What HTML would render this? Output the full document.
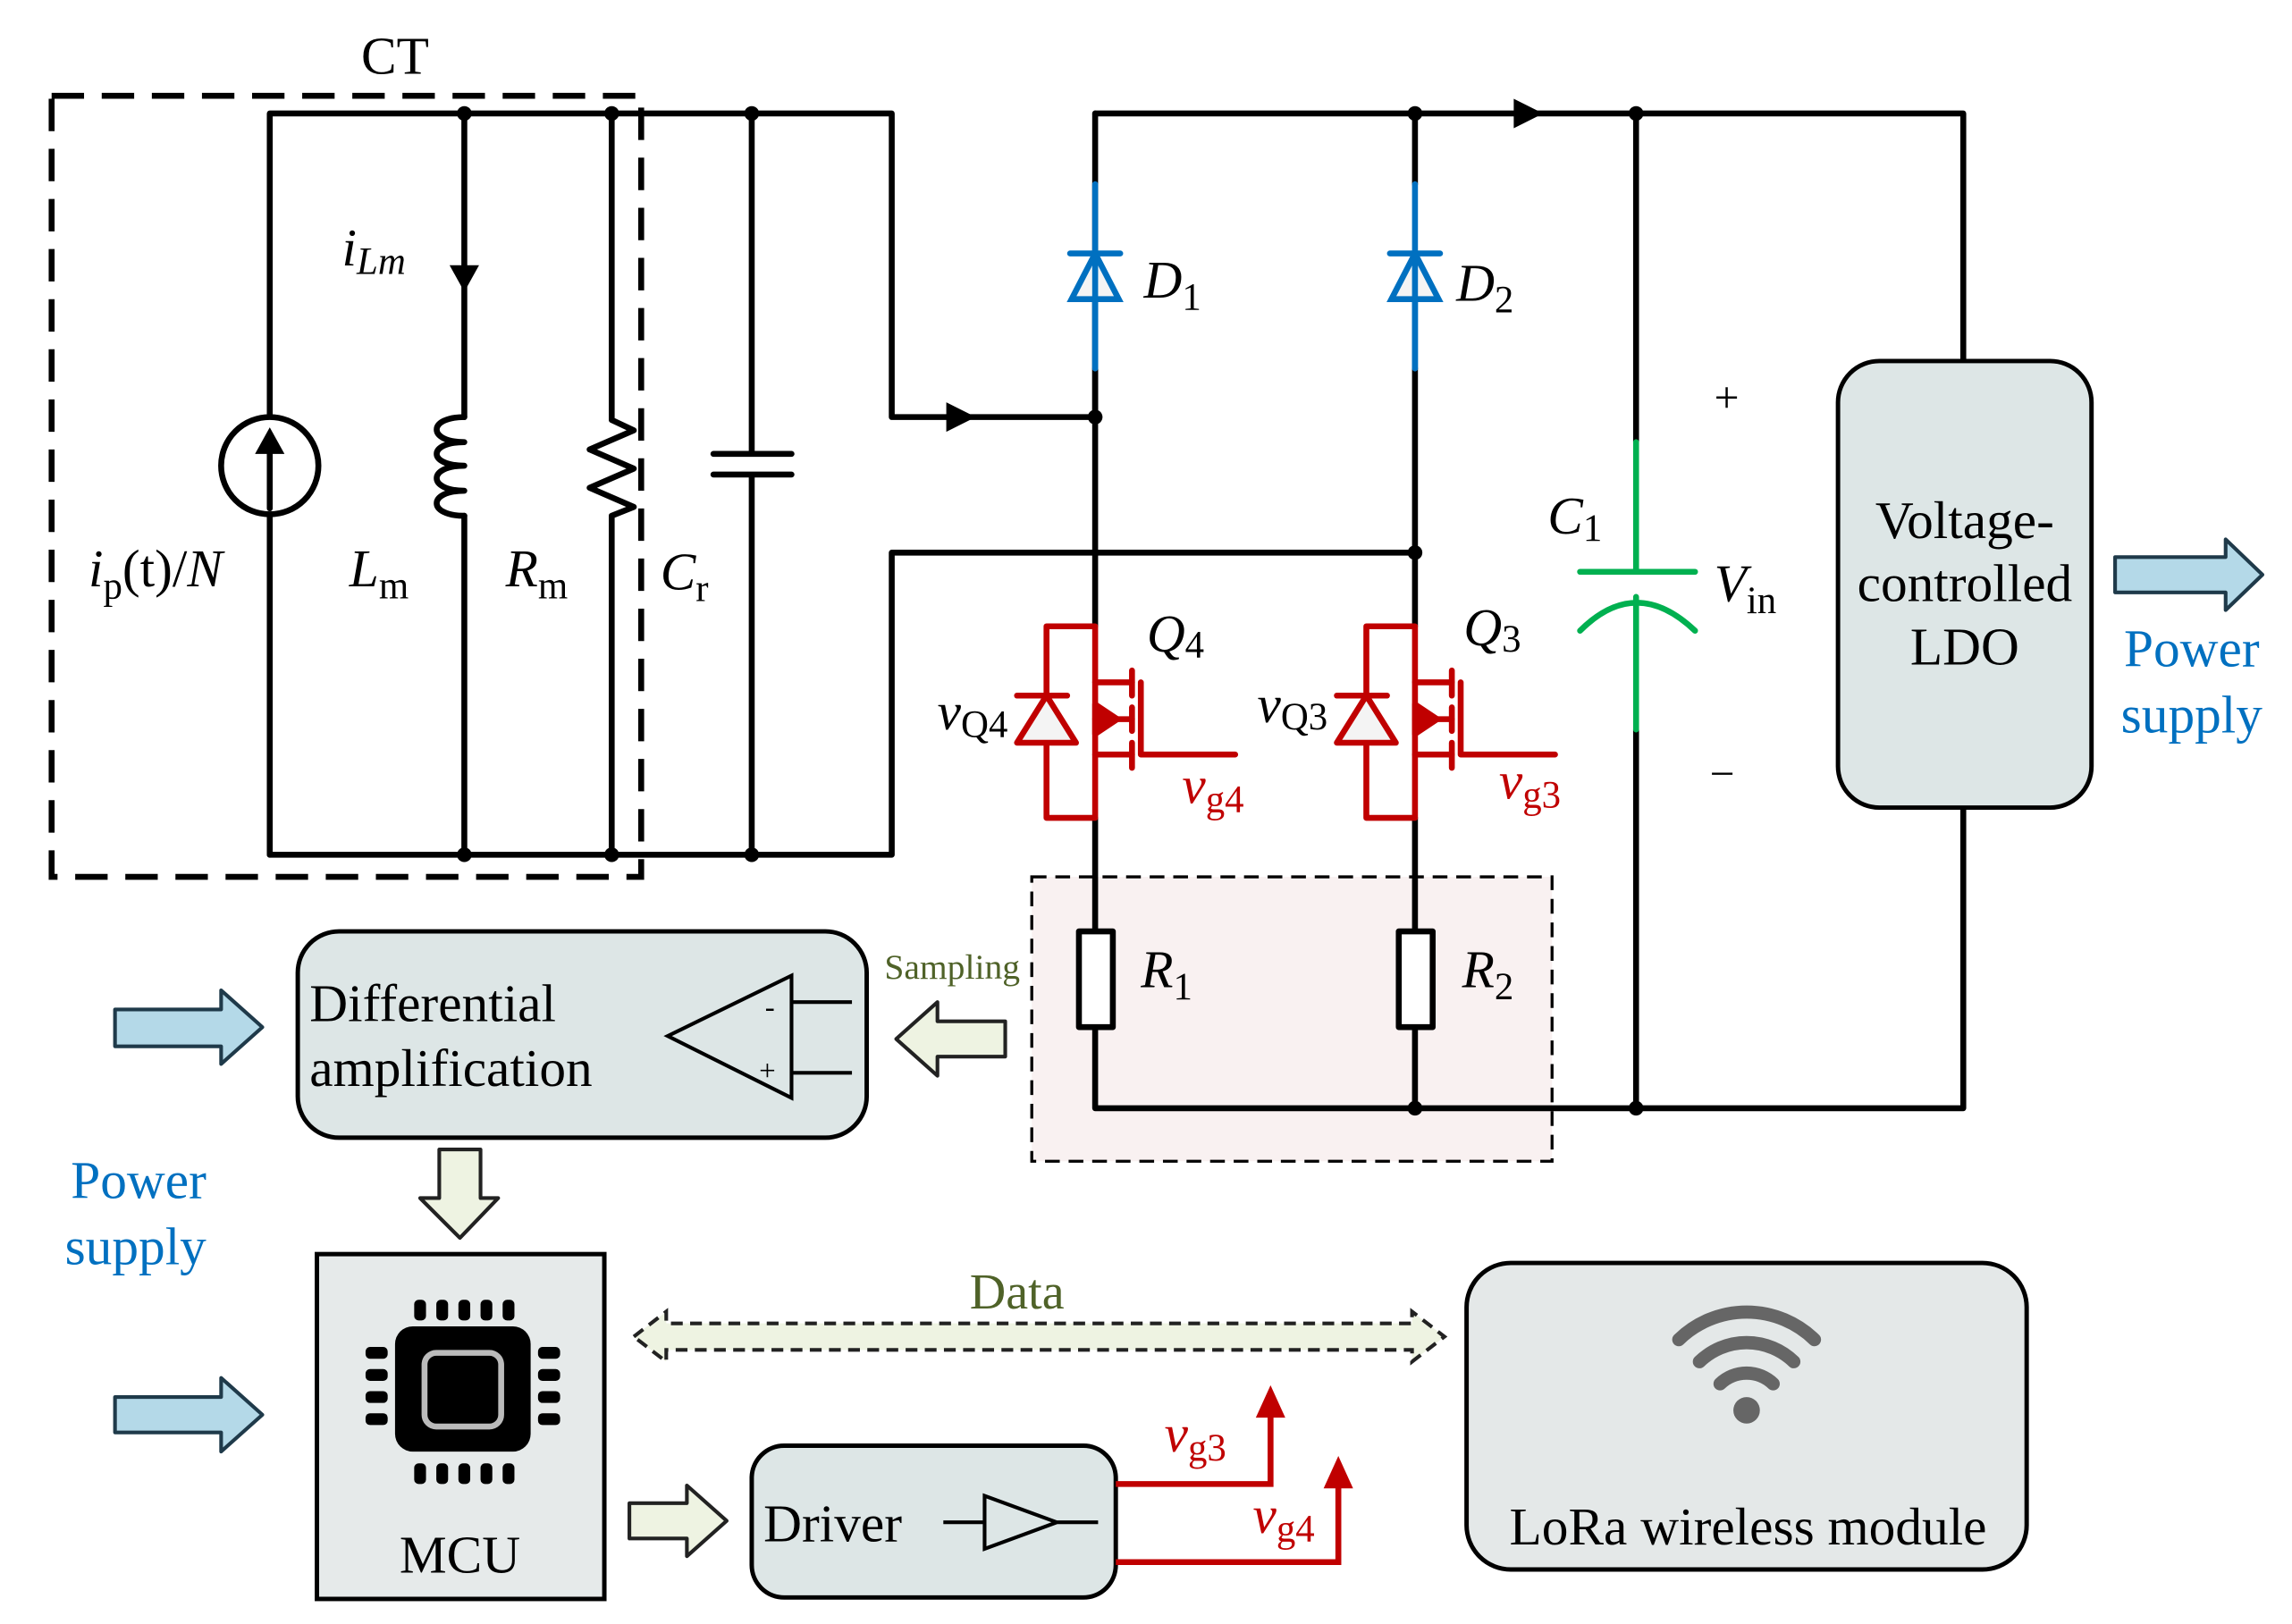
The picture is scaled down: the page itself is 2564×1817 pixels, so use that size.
<!DOCTYPE html>
<html><head><meta charset="utf-8"><style>
html,body{margin:0;padding:0;background:#fff;}
svg{display:block;}
text{font-family:"Liberation Serif","Times New Roman",serif;}
</style></head><body>
<svg width="2564" height="1817" viewBox="0 0 1555 1102" xmlns="http://www.w3.org/2000/svg" font-family="Liberation Serif, Times New Roman, serif">
<rect width="1555" height="1102" fill="#fff"/>
<!-- sampling box -->
<rect x="700" y="595" width="353" height="193" fill="#f9f1f1" stroke="#000" stroke-width="2" stroke-dasharray="10,6"/>
<!-- CT dashed box -->
<rect x="35" y="65" width="400" height="530" fill="none" stroke="#000" stroke-width="4" stroke-dasharray="22,12"/>
<text x="268" y="50" font-size="36" text-anchor="middle">CT</text>
<g stroke="#000" stroke-width="4" fill="none" stroke-linecap="round" stroke-linejoin="round">
<path d="M183 580 V77 H605 V283 H743"/>
<path d="M183 580 H605 V375 H960"/>
<circle cx="183" cy="316" r="33" fill="#fff"/>
<path d="M183 345 V300"/>
<path d="M315 77 V283 M315 350 V580"/>
<path d="M315 283 C290 283 290 300 315 300 C290 300 290 316 315 316 C290 316 290 333 315 333 C290 333 290 350 315 350"/>
<path d="M415 77 V285 L430 292 L400 305 L430 318 L400 331 L430 344 L415 350 V580"/>
<path d="M510 77 V308 M510 322 V580 M484 308 H537 M484 322 H537"/>
<path d="M743 283 V125 M743 77 V125"/>
<path d="M743 77 H1332 V245 M1332 548 V752 H743 V697 M743 632 V555 M743 250 V425"/>
<path d="M960 77 V125 M960 250 V425 M960 555 V632 M960 697 V752"/>
<path d="M1110 77 V300 M1110 495 V752"/>
<rect x="732" y="632" width="23" height="65" fill="#fff"/>
<rect x="949" y="632" width="23" height="65" fill="#fff"/>
</g>
<g fill="#000">
<path d="M183 290 l-10 18 h20 z"/>
<path d="M315 198 l-10 -18 h20 z"/>
<path d="M662 283 l-20 -10 v20 z"/>
<path d="M1047 77 l-20 -10 v20 z"/>
<circle cx="315" cy="77" r="5"/><circle cx="415" cy="77" r="5"/><circle cx="510" cy="77" r="5"/>
<circle cx="315" cy="580" r="5"/><circle cx="415" cy="580" r="5"/><circle cx="510" cy="580" r="5"/>
<circle cx="960" cy="77" r="5"/><circle cx="1110" cy="77" r="5"/>
<circle cx="743" cy="283" r="5"/><circle cx="960" cy="375" r="5"/>
<circle cx="960" cy="752" r="5"/><circle cx="1110" cy="752" r="5"/>
</g>
<g stroke="#0070c0" stroke-width="4" fill="#fff" stroke-linecap="round">
<path d="M743 125 V250 M726 172 H760"/>
<path d="M743 172 L727 203 H759 Z" fill="#f4f4f4"/>
<path d="M743 172 V250"/>
<path d="M960 125 V250 M943 172 H977"/>
<path d="M960 172 L944 203 H976 Z" fill="#f4f4f4"/>
<path d="M960 172 V250"/>
</g>
<g stroke="#00b050" stroke-width="4" fill="none" stroke-linecap="round">
<path d="M1110 300 V388 M1072 388 H1150 M1110 405 V495"/>
<path d="M1072 428 Q1110 390 1150 428"/>
</g>
<g id="q4" stroke="#c00000" stroke-width="4" fill="none" stroke-linecap="round" stroke-linejoin="round">
<path d="M743 425 H710 V555 H743 V425"/>
<path d="M743 463 H768 M743 512 H768 M743 488 H768"/>
<path d="M768 455 V472 M768 480 V496 M768 504 V521"/>
<path d="M774 463 V512 H838"/>
<path d="M690 472 H724"/>
<path d="M710 472 L690 504 H730 Z" fill="#f4f4f4"/>
<path d="M743 478 L758 488 L743 498 Z" fill="#c00000"/>
</g>
<use href="#q4" x="217" y="0"/>
<rect x="1247" y="245" width="172" height="303" rx="28" fill="#dde6e6" stroke="#000" stroke-width="3"/>
<text x="1333" y="365" font-size="36" text-anchor="middle">Voltage-</text>
<text x="1333" y="408" font-size="36" text-anchor="middle">controlled</text>
<text x="1333" y="451" font-size="36" text-anchor="middle">LDO</text>
<g stroke="#1f3a4a" stroke-width="2.5" fill="#b4d9e8" stroke-linejoin="round">
<path d="M1435 378 H1510 V366 L1535 390 L1510 414 V402 H1435 Z"/>
<path d="M78 685 H150 V672 L178 697 L150 722 V710 H78 Z"/>
<path d="M78 948 H150 V935 L178 960 L150 985 V972 H78 Z"/>
</g>
<g stroke="#222" stroke-width="2.5" fill="#eef3e2" stroke-linejoin="round">
<path d="M682 693 H636 V680 L608 705 L636 730 V717 H682 Z"/>
<path d="M298 780 H326 V813 H338 L312 840 L285 813 H298 Z"/>
<path d="M427 1020 H466 V1008 L493 1032 L466 1056 V1044 H427 Z"/>
</g>
<path d="M430 907 L452 890 V898 H958 V890 L980 907 L958 924 V916 H452 V924 Z" fill="#eef3e2" stroke="#222" stroke-width="2.5" stroke-dasharray="8,5"/>
<text x="690" y="888" font-size="34" fill="#4f6228" text-anchor="middle">Data</text>
<text x="646" y="664" font-size="24" fill="#4f6228" text-anchor="middle">Sampling</text>
<rect x="202" y="632" width="386" height="140" rx="28" fill="#dde6e6" stroke="#000" stroke-width="3"/>
<text x="210" y="693" font-size="36">Differential</text>
<text x="210" y="737" font-size="36">amplification</text>
<g stroke="#000" stroke-width="2.5" fill="none">
<path d="M537 662 L537 745 L453 703 Z"/>
<path d="M537 680 H578 M537 728 H578"/>
</g>
<text x="519" y="690" font-size="20">-</text>
<text x="515" y="733" font-size="20">+</text>
<rect x="215" y="851" width="195" height="234" fill="#e6eaea" stroke="#000" stroke-width="3"/>
<g fill="#000">
<rect x="268" y="900" width="92" height="85" rx="12"/>
<rect x="281" y="882" width="8" height="14" rx="3"/><rect x="296" y="882" width="8" height="14" rx="3"/><rect x="311" y="882" width="8" height="14" rx="3"/><rect x="326" y="882" width="8" height="14" rx="3"/><rect x="341" y="882" width="8" height="14" rx="3"/>
<rect x="281" y="993" width="8" height="14" rx="3"/><rect x="296" y="993" width="8" height="14" rx="3"/><rect x="311" y="993" width="8" height="14" rx="3"/><rect x="326" y="993" width="8" height="14" rx="3"/><rect x="341" y="993" width="8" height="14" rx="3"/>
<rect x="248" y="914" width="15" height="8" rx="3"/><rect x="248" y="929" width="15" height="8" rx="3"/><rect x="248" y="944" width="15" height="8" rx="3"/><rect x="248" y="959" width="15" height="8" rx="3"/>
<rect x="365" y="914" width="15" height="8" rx="3"/><rect x="365" y="929" width="15" height="8" rx="3"/><rect x="365" y="944" width="15" height="8" rx="3"/><rect x="365" y="959" width="15" height="8" rx="3"/>
</g>
<rect x="288" y="918" width="52" height="50" rx="8" fill="#000" stroke="#bbb" stroke-width="4"/>
<text x="312" y="1067" font-size="36" text-anchor="middle">MCU</text>
<rect x="510" y="981" width="247" height="103" rx="22" fill="#dde6e6" stroke="#000" stroke-width="3"/>
<text x="518" y="1046" font-size="36">Driver</text>
<g stroke="#000" stroke-width="2.5" fill="none">
<path d="M640 1033 H668 M717 1033 H745 M668 1015 V1051 L717 1033 Z"/>
</g>
<g stroke="#c00000" stroke-width="4" fill="none">
<path d="M757 1007 H862 V958"/>
<path d="M757 1060 H908 V1005"/>
</g>
<g fill="#c00000">
<path d="M862 940 l-10 22 h20 z"/>
<path d="M908 988 l-10 22 h20 z"/>
</g>
<rect x="995" y="857" width="380" height="208" rx="30" fill="#e4e8e8" stroke="#000" stroke-width="3"/>
<g stroke="#666" stroke-width="9" fill="none" stroke-linecap="round">
<path d="M1167 939 A26 26 0 0 1 1203 939"/>
<path d="M1153 924 A46 46 0 0 1 1217 924"/>
<path d="M1139 909 A66 66 0 0 1 1231 909"/>
</g>
<circle cx="1185" cy="957" r="9" fill="#666"/>
<text x="1186" y="1048" font-size="36" text-anchor="middle">LoRa wireless module</text>
<g font-size="36">
<text x="232" y="180" font-style="italic">i<tspan font-size="26" dy="6">Lm</tspan></text>
<text x="60" y="398" font-style="italic">i<tspan font-size="26" dy="8" font-style="normal">p</tspan><tspan dy="-8" font-style="normal">(t)/</tspan>N</text>
<text x="237" y="398" font-style="italic">L<tspan font-size="26" dy="8" font-style="normal">m</tspan></text>
<text x="343" y="398" font-style="italic">R<tspan font-size="26" dy="8" font-style="normal">m</tspan></text>
<text x="448" y="400" font-style="italic">C<tspan font-size="26" dy="8" font-style="normal">r</tspan></text>
<text x="776" y="202" font-style="italic">D<tspan font-size="26" dy="8" font-style="normal">1</tspan></text>
<text x="988" y="204" font-style="italic">D<tspan font-size="26" dy="8" font-style="normal">2</tspan></text>
<text x="778" y="442" font-style="italic">Q<tspan font-size="26" dy="4" font-style="normal">4</tspan></text>
<text x="993" y="438" font-style="italic">Q<tspan font-size="26" dy="4" font-style="normal">3</tspan></text>
<text x="636" y="495" font-style="italic">v<tspan font-size="26" dy="5" font-style="normal">Q4</tspan></text>
<text x="853" y="490" font-style="italic">v<tspan font-size="26" dy="5" font-style="normal">Q3</tspan></text>
<text x="774" y="670" font-style="italic">R<tspan font-size="26" dy="8" font-style="normal">1</tspan></text>
<text x="992" y="670" font-style="italic">R<tspan font-size="26" dy="8" font-style="normal">2</tspan></text>
<text x="1050" y="362" font-style="italic">C<tspan font-size="26" dy="5" font-style="normal">1</tspan></text>
<text x="1163" y="408" font-style="italic">V<tspan font-size="26" dy="8" font-style="normal">in</tspan></text>
<text x="1163" y="280" font-size="30">+</text>
<text x="1160" y="535" font-size="30">−</text>
</g>
<g font-size="36" fill="#c00000" font-style="italic">
<text x="802" y="545">v<tspan font-size="26" dy="6" font-style="normal">g4</tspan></text>
<text x="1017" y="542">v<tspan font-size="26" dy="6" font-style="normal">g3</tspan></text>
<text x="790" y="985">v<tspan font-size="26" dy="6" font-style="normal">g3</tspan></text>
<text x="850" y="1040">v<tspan font-size="26" dy="6" font-style="normal">g4</tspan></text>
</g>
<g font-size="36" fill="#0070c0" text-anchor="middle">
<text x="1487" y="452">Power</text>
<text x="1487" y="497">supply</text>
<text x="94" y="813">Power</text>
<text x="92" y="858">supply</text>
</g>
</svg>
</body></html>
